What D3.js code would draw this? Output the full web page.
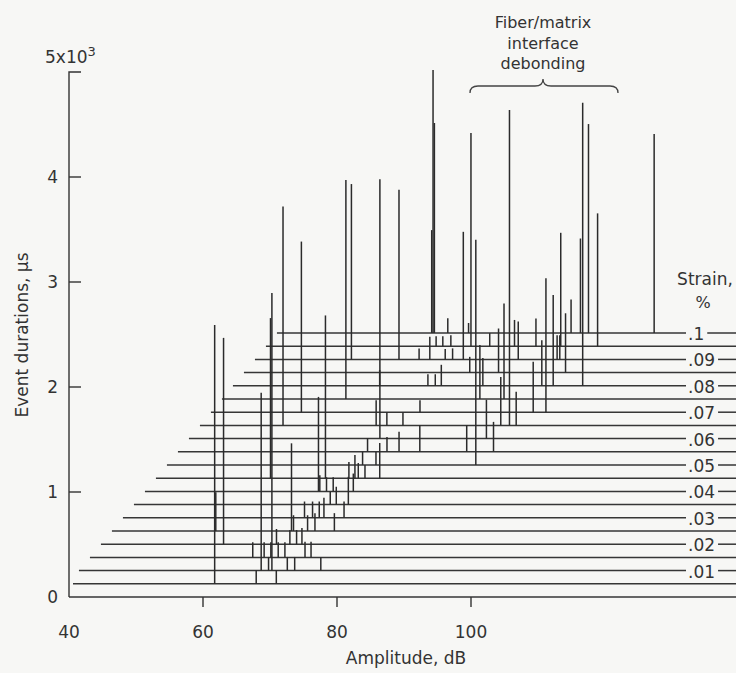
<!DOCTYPE html>
<html>
<head>
<meta charset="utf-8">
<script src="https://cdn.jsdelivr.net/npm/d3@7"></script>
<style>
  body { margin: 0; background: #f7f7f5; }
  svg { display: block; font-family: "DejaVu Sans", sans-serif; }
</style>
</head>
<body>
<div class="chart"></div>
<script>
// amplitude (dB) and duration (us) axes
const amplitudeTicks = [60, 80, 100]
const amplitudeLabels = [40, 60, 80, 100]
const durationTicks = [0, 1000, 2000, 3000, 4000, 5000]
const durationLabels = ['0', '1', '2', '3', '4']

// one baseline per strain step (%)
const strainLevels = [0, .005, .01, .015, .02, .025, .03, .035, .04, .045, .05,
    .055, .06, .065, .07, .075, .08, .085, .09, .095, .1]
const strainLabelValues = [.01, .02, .03, .04, .05, .06, .07, .08, .09, .1]
const strainLabels = ['.01', '.02', '.03', '.04', '.05', '.06', '.07', '.08', '.09', '.1']

// [strain %, amplitude dB, event duration us]
const events = [
    [.005, 60.1, 2465], [.025, 53.7, 370], [.02, 56.5, 1965], [.015, 62.5, 145],
    [.005, 66.3, 130], [.01, 65.4, 1695], [.015, 64.2, 145], [.01, 66.5, 130],
    [.015, 65.2, 145], [.045, 55.3, 1525], [.01, 67.0, 2645], [.005, 69.3, 130],
    [.02, 64.4, 145], [.015, 66.3, 145], [.065, 50.6, 2085], [.015, 67.3, 145],
    [.01, 69.3, 130], [.02, 66.4, 135], [.025, 65.0, 835], [.025, 65.3, 150],
    [.01, 70.4, 130], [.02, 67.4, 135], [.07, 51.7, 1625], [.02, 68.2, 155],
    [.03, 65.3, 155], [.015, 70.3, 150], [.025, 67.4, 150], [.015, 71.2, 150],
    [.03, 66.5, 155], [.025, 68.5, 170], [.04, 64.1, 900], [.03, 67.5, 155],
    [.04, 64.3, 155], [.01, 74.3, 130], [.03, 68.2, 190], [.045, 63.5, 1550],
    [.04, 65.3, 135], [.035, 67.5, 125], [.04, 66.3, 135], [.025, 71.4, 170],
    [.035, 68.4, 170], [.03, 71.2, 155], [.075, 56.7, 2085], [.035, 70.2, 265],
    [.045, 67.0, 155], [.09, 52.6, 1670], [.04, 69.3, 170], [.045, 67.9, 220],
    [.045, 68.4, 145], [.05, 67.4, 125], [.045, 69.4, 125], [.055, 66.5, 130],
    [.065, 64.5, 240], [.05, 69.4, 125], [.06, 66.7, 2470], [.045, 71.6, 335],
    [.08, 60.1, 150], [.065, 66.1, 125], [.055, 69.4, 140], [.09, 59.7, 1615],
    [.055, 71.2, 190], [.065, 68.5, 125], [.055, 74.3, 255], [.07, 69.4, 115],
    [.09, 62.7, 105], [.08, 67.3, 110], [.09, 64.3, 215], [.1, 61.5, 2505],
    [.1, 61.7, 2000], [.1, 61.3, 980], [.08, 68.4, 110], [.095, 63.6, 95],
    [.08, 69.3, 200], [.095, 64.6, 95], [.09, 66.6, 100], [.1, 63.7, 140],
    [.095, 65.8, 105], [.09, 67.7, 105], [.09, 69.3, 1215], [.055, 81.3, 255],
    [.1, 66.8, 95], [.095, 68.8, 2030], [.085, 71.9, 150], [.05, 84.3, 2145],
    [.075, 76.7, 515], [.08, 75.5, 265], [.06, 82.6, 370], [.095, 71.6, 125],
    [.055, 85.3, 285], [.085, 76.2, 420], [.065, 83.1, 460], [.075, 80.3, 910],
    [.065, 84.4, 3005], [.095, 75.3, 250], [.065, 85.4, 320], [.09, 77.5, 360],
    [.07, 86.3, 480], [.095, 78.5, 265], [.08, 84.3, 435], [.07, 88.2, 1275],
    [.08, 86.0, 865], [.09, 83.3, 230], [.09, 83.7, 230], [.095, 82.2, 1080],
    [.085, 86.2, 565], [.1, 82.1, 320], [.1, 83.5, 900], [.08, 90.4, 2695],
    [.1, 84.7, 1990], [.095, 87.7, 1265], [.1, 94.5, 1895]
]

const width = 736
const height = 673
const ink = '#333'

const svg = d3.select('.chart')
    .append('svg')
    .attr('width', width)
    .attr('height', height)

const x = d3.scaleLinear().domain([40, 100]).range([69, 471])
const y = d3.scaleLinear().domain([0, 5000]).range([597, 72])
// oblique offset of each strain slice
const shiftX = d3.scaleLinear().domain([0, 0.1]).range([0, 220])
const shiftY = d3.scaleLinear().domain([0, 0.1]).range([0, -264])

const baseY = s => y(0) + shiftY(s)
const labelX = 688

// strain labels first so we know where to break their lines
const labelG = svg.append('g')
const labelWidth = {}
strainLabelValues.forEach((s, i) => {
    const t = labelG.append('text')
        .attr('x', labelX)
        .attr('y', baseY(s) + 1)
        .attr('dominant-baseline', 'central')
        .attr('font-size', 17)
        .attr('fill', ink)
        .text(strainLabels[i])
    labelWidth[s] = t.node().getComputedTextLength()
})

// baselines
const floor = svg.append('g')
    .attr('stroke', '#363636')
    .attr('stroke-width', 1.5)
strainLevels.forEach(s => {
    const yy = baseY(s)
    const x1 = s === 0 ? x(40) : Math.max(x(40) + 4, x(38.2) + shiftX(s))
    const w = labelWidth[s]
    if (w !== undefined) {
        floor.append('line').attr('x1', x1).attr('x2', labelX - 2).attr('y1', yy).attr('y2', yy)
        floor.append('line').attr('x1', labelX + w + 3).attr('x2', width).attr('y1', yy).attr('y2', yy)
    } else {
        floor.append('line').attr('x1', x1).attr('x2', width).attr('y1', yy).attr('y2', yy)
    }
})

// event duration spikes
svg.append('g')
    .selectAll('line')
    .data(events)
    .join('line')
    .attr('x1', d => x(d[1]) + shiftX(d[0]))
    .attr('x2', d => x(d[1]) + shiftX(d[0]))
    .attr('y1', d => baseY(d[0]))
    .attr('y2', d => y(d[2]) + shiftY(d[0]))
    .attr('stroke', '#2b2b2b')
    .attr('stroke-width', 1.5)

// y axis
svg.append('path')
    .attr('d', `M${x(40) + 12},${y(5000)}H${x(40)}V${y(0)}`)
    .attr('fill', 'none')
    .attr('stroke', ink)
    .attr('stroke-width', 1.4)
svg.append('g')
    .selectAll('line')
    .data(durationTicks.slice(1, 5))
    .join('line')
    .attr('x1', x(40)).attr('x2', x(40) + 12)
    .attr('y1', d => y(d)).attr('y2', d => y(d))
    .attr('stroke', ink).attr('stroke-width', 1.4)
svg.append('g')
    .selectAll('text')
    .data(durationLabels)
    .join('text')
    .attr('x', 58)
    .attr('y', (d, i) => y(durationTicks[i]) + 6)
    .attr('text-anchor', 'end')
    .attr('font-size', 17)
    .attr('fill', ink)
    .text(d => d)
const topLabel = svg.append('text')
    .attr('x', 45)
    .attr('y', y(5000) - 9)
    .attr('font-size', 17)
    .attr('fill', ink)
topLabel.append('tspan').text('5x10')
topLabel.append('tspan').attr('dy', -7).attr('font-size', 13).text('3')

svg.append('text')
    .attr('transform', `translate(28,335) rotate(-90)`)
    .attr('text-anchor', 'middle')
    .attr('font-size', 17)
    .attr('fill', ink)
    .text('Event durations, µs')

// x axis ticks
svg.append('g')
    .selectAll('line')
    .data(amplitudeTicks)
    .join('line')
    .attr('x1', d => x(d)).attr('x2', d => x(d))
    .attr('y1', y(0)).attr('y2', y(0) + 10)
    .attr('stroke', ink).attr('stroke-width', 1.4)
svg.append('g')
    .selectAll('text')
    .data(amplitudeLabels)
    .join('text')
    .attr('x', d => x(d))
    .attr('y', 638)
    .attr('text-anchor', 'middle')
    .attr('font-size', 17)
    .attr('fill', ink)
    .text(d => d)
svg.append('text')
    .attr('x', 406)
    .attr('y', 664)
    .attr('text-anchor', 'middle')
    .attr('font-size', 17)
    .attr('fill', ink)
    .text('Amplitude, dB')

// strain title
svg.append('text').attr('x', 705).attr('y', 285).attr('text-anchor', 'middle')
    .attr('font-size', 17).attr('fill', ink).text('Strain,')
svg.append('text').attr('x', 703).attr('y', 308).attr('text-anchor', 'middle')
    .attr('font-size', 16).attr('fill', ink).text('%')

// debonding annotation
const note = ['Fiber/matrix', 'interface', 'debonding']
svg.append('g')
    .selectAll('text')
    .data(note)
    .join('text')
    .attr('x', 543)
    .attr('y', (d, i) => 28 + i * 20.5)
    .attr('text-anchor', 'middle')
    .attr('font-size', 16)
    .attr('fill', ink)
    .text(d => d)
svg.append('path')
    .attr('d', 'M470,93 Q470,86 478,86 L535,86 Q543,86 543,79 Q543,86 551,86 L610,86 Q618,86 618,93')
    .attr('fill', 'none')
    .attr('stroke', '#444')
    .attr('stroke-width', 1.3)
</script>
</body>
</html>
